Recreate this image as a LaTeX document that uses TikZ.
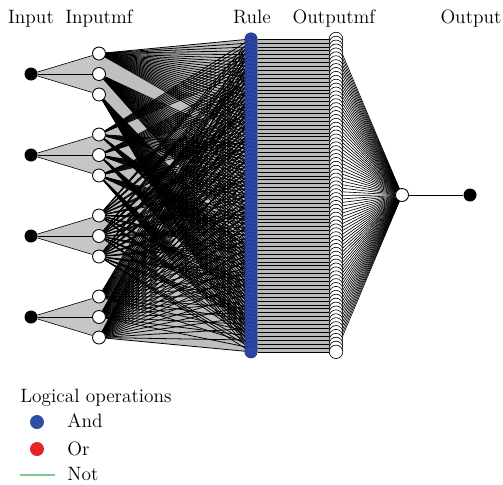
\documentclass[tikz,border=0pt]{standalone}
\usepackage{tikz}
\usetikzlibrary{backgrounds}

\definecolor{rulecol}{RGB}{45,70,165}
\definecolor{andcol}{RGB}{45,80,165}
\definecolor{orcol}{RGB}{230,35,40}
\definecolor{notcol}{RGB}{130,200,140}

\begin{document}
\begin{tikzpicture}[x=0.02cm,y=-0.02cm,
	inpnode/.style={circle,fill=black,inner sep=0pt,minimum size=0.26cm},
	mfnode/.style={circle,draw=black,fill=white,inner sep=0pt,minimum size=0.26cm,line width=0.5pt},
	rulenode/.style={circle,fill=rulecol,draw=rulecol!75!black,inner sep=0pt,minimum size=0.25cm,line width=0.3pt},
	omfnode/.style={circle,draw=black,fill=white,inner sep=0pt,minimum size=0.27cm,line width=0.35pt},
	wire/.style={line width=0.35pt},
	thickwire/.style={line width=0.45pt},
	lbl/.style={font=\fontsize{11}{13}\selectfont,inner sep=0pt}]
	\useasboundingbox (0,0) rectangle (503,484);
	\node[lbl,anchor=base] (tin) at (31,23) {Input};
	\node[lbl,anchor=base] (tinmf) at (99,23) {Inputmf};
	\node[lbl,anchor=base] (trule) at (252,23) {Rule};
	\node[lbl,anchor=base] (toutmf) at (334,23) {Outputmf};
	\node[lbl,anchor=base] (tout) at (471,23) {Output};
	\foreach \k/\yy in {1/74,2/155,3/236,4/317} {
		\node[inpnode] (in\k) at (31,\yy) {};
		\foreach \j/\dy in {1/-20.5,2/0,3/20.5}
			\node[mfnode] (mf\k\j) at (99,\yy+\dy) {};
	}
	\foreach \i in {0,...,80}
		\node[rulenode] (r\i) at (251,{39+3.91*\i}) {};
	\foreach \i in {0,...,80}
		\node[omfnode] (om\i) at (336,{39+3.91*\i}) {};
	\node[mfnode] (o) at (402,195) {};
	\node[inpnode] (y) at (470,195) {};
	\begin{scope}[on background layer]
		\fill[gray!50] (mf11.center) -- (r0.center) -- (r80.center) -- (mf43.center) -- cycle;
		\foreach \a/\b in {13/21,23/31,33/41}
			\fill[white] (mf\a.center) -- (intersection of mf\a--r80 and mf\b--r0) -- (mf\b.center) -- cycle;
		\foreach \k in {1,...,4} {
			\fill[gray!45] (in\k.center) -- (mf\k1.center) -- (mf\k3.center) -- cycle;
			\foreach \j in {1,2,3}
				\draw[wire] (in\k) -- (mf\k\j);
		}
		\fill[gray!55] (r0.center) rectangle (om80.center);
		\foreach \i in {0,...,80} {
			\pgfmathtruncatemacro{\mfa}{floor(\i/27)+1}
			\pgfmathtruncatemacro{\mfb}{mod(floor(\i/9),3)+1}
			\pgfmathtruncatemacro{\mfc}{mod(floor(\i/3),3)+1}
			\pgfmathtruncatemacro{\mfd}{mod(\i,3)+1}
			\draw[thickwire] (mf1\mfa) -- (r\i.center);
			\draw[thickwire] (mf2\mfb) -- (r\i.center);
			\draw[thickwire] (mf3\mfc) -- (r\i.center);
			\draw[thickwire] (mf4\mfd) -- (r\i.center);
			\draw[wire] (r\i) -- (om\i);
			\draw[wire] (om\i) -- (o);
		}
		\draw[line width=0.4pt] (o) -- (y);
	\end{scope}
	\node[lbl,anchor=base west] (tleg) at (20,402) {Logical operations};
	\node[circle,fill=andcol,inner sep=0pt,minimum size=0.28cm] (dand) at (37,422) {};
	\node[lbl,anchor=base west] (tand) at (67,427) {And};
	\node[circle,fill=orcol,inner sep=0pt,minimum size=0.28cm] (dor) at (37,449) {};
	\node[lbl,anchor=base west] (tor) at (67,455) {Or};
	\coordinate (nota) at (20,475);
	\coordinate (notb) at (55,475);
	\draw[notcol,line width=0.6pt] (nota) -- (notb);
	\node[lbl,anchor=base west] (tnot) at (67,480) {Not};
\end{tikzpicture}
\end{document}
